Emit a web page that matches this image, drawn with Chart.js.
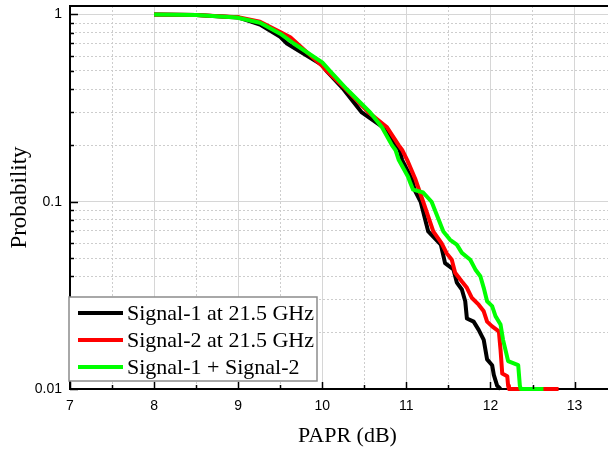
<!DOCTYPE html>
<html><head><meta charset="utf-8">
<script src="https://cdn.jsdelivr.net/npm/chart.js@4.4.1/dist/chart.umd.min.js"></script>
<style>
html,body{margin:0;padding:0;overflow:hidden;background:#fff}
#wrap{position:relative;width:640px;height:449px}
</style>
</head><body>
<div id="wrap"><canvas id="c"></canvas></div>
<script>
// ---- data ----
const seriesLabels = ['Signal-1 at 21.5 GHz', 'Signal-2 at 21.5 GHz', 'Signal-1 + Signal-2'];
const seriesColors = ['#000000', '#ff0000', '#00ff00'];

const sig1Papr = [8.0, 8.5, 9.0, 9.26, 9.5, 9.58, 10.0, 10.05, 10.25, 10.47, 10.72, 10.87, 10.92, 10.95, 11.07, 11.10, 11.17, 11.26, 11.41, 11.46, 11.56, 11.60, 11.66, 11.70, 11.72, 11.80, 11.86, 11.92, 11.96, 12.02, 12.04, 12.08, 12.12];
const sig1Prob = [1.0, 0.995, 0.965, 0.883, 0.76, 0.70, 0.537, 0.50, 0.40, 0.30, 0.25, 0.20, 0.189, 0.167, 0.131, 0.115, 0.10, 0.0694, 0.059, 0.047, 0.0435, 0.037, 0.034, 0.0294, 0.0238, 0.0229, 0.0207, 0.0183, 0.0144, 0.0134, 0.0119, 0.0104, 0.01];

const sig2Papr = [8.0, 8.5, 9.0, 9.26, 9.5, 9.62, 10.0, 10.05, 10.28, 10.55, 10.77, 10.91, 10.95, 11.01, 11.11, 11.20, 11.32, 11.42, 11.48, 11.54, 11.58, 11.66, 11.72, 11.78, 11.86, 11.92, 11.96, 12.02, 12.10, 12.12, 12.14, 12.20, 12.21, 12.22, 12.81];
const sig2Prob = [1.0, 0.995, 0.967, 0.915, 0.805, 0.755, 0.53, 0.50, 0.40, 0.30, 0.25, 0.20, 0.189, 0.167, 0.131, 0.10, 0.0694, 0.060, 0.053, 0.049, 0.0418, 0.0375, 0.0347, 0.0306, 0.0282, 0.026, 0.0229, 0.0216, 0.0203, 0.0162, 0.0121, 0.0117, 0.0104, 0.01, 0.01];

const sumPapr = [8.0, 8.5, 8.98, 9.26, 9.5, 9.66, 10.0, 10.09, 10.29, 10.57, 10.71, 10.83, 10.87, 10.91, 11.02, 11.05, 11.08, 11.20, 11.30, 11.44, 11.52, 11.60, 11.66, 11.76, 11.82, 11.88, 11.92, 11.96, 12.02, 12.06, 12.12, 12.15, 12.21, 12.33, 12.35, 12.36, 12.63];
const sumProb = [1.0, 0.995, 0.964, 0.904, 0.79, 0.70, 0.555, 0.50, 0.40, 0.30, 0.25, 0.20, 0.189, 0.167, 0.136, 0.125, 0.116, 0.112, 0.10, 0.0694, 0.0626, 0.059, 0.0533, 0.049, 0.0435, 0.04, 0.0347, 0.0294, 0.0277, 0.0245, 0.0221, 0.0183, 0.0141, 0.0134, 0.0104, 0.01, 0.01];

const xMajorTicks = [7, 8, 9, 10, 11, 12, 13];
const yMajorTicks = [0.01, 0.1, 1];
const xTitle = 'PAPR (dB)';
const yTitle = 'Probability';

// ---- build ----
const toPts = (xs, ys) => xs.map((x, i) => ({x, y: ys[i]}));
const seriesPts = [toPts(sig1Papr, sig1Prob), toPts(sig2Papr, sig2Prob), toPts(sumPapr, sumProb)];
const isMajorY = v => yMajorTicks.some(m => Math.abs(v / m - 1) < 1e-6);
const isMajorX = v => xMajorTicks.some(m => Math.abs(v - m) < 1e-6);

const serif = "'Liberation Serif', 'Times New Roman', serif";
const sans = "'Liberation Sans', Arial, sans-serif";

const decorPlugin = {
  id: 'decor',
  afterDraw(chart) {
    const {ctx, chartArea: a, scales: {x, y}} = chart;
    ctx.save();
    ctx.strokeStyle = '#000';
    ctx.lineWidth = 1.5;
    // inward ticks
    x.ticks.forEach(t => {
      const px = Math.round(x.getPixelForValue(t.value)) + 0.5;
      const len = isMajorX(t.value) ? 7 : 4;
      ctx.beginPath(); ctx.moveTo(px, a.bottom); ctx.lineTo(px, a.bottom - len); ctx.stroke();
    });
    y.ticks.forEach(t => {
      const py = Math.round(y.getPixelForValue(t.value)) + 0.5;
      const len = isMajorY(t.value) ? 8 : 4;
      ctx.beginPath(); ctx.moveTo(a.left, py); ctx.lineTo(a.left + len, py); ctx.stroke();
    });
    // top / right frame
    ctx.lineWidth = 2;
    ctx.beginPath(); ctx.moveTo(a.left, a.top); ctx.lineTo(a.right, a.top); ctx.stroke();
    ctx.beginPath(); ctx.moveTo(a.right, a.top); ctx.lineTo(a.right, a.bottom); ctx.stroke();

    // legend box
    const bx = a.left - 1, by = 297, bw = 248, bh = 84;
    ctx.fillStyle = '#fff';
    ctx.fillRect(bx, by, bw, bh);
    ctx.strokeStyle = '#8c8c8c';
    ctx.lineWidth = 1.5;
    ctx.strokeRect(bx, by, bw, bh);
    ctx.font = '22px ' + serif;
    ctx.textBaseline = 'middle';
    ctx.textAlign = 'left';
    chart.data.datasets.forEach((ds, i) => {
      const cy = by + 16 + i * 27;
      ctx.strokeStyle = ds.borderColor;
      ctx.lineWidth = 4;
      ctx.beginPath(); ctx.moveTo(bx + 9, cy); ctx.lineTo(bx + 54, cy); ctx.stroke();
      ctx.fillStyle = '#000';
      ctx.fillText(ds.label, bx + 58, cy + 1);
    });
    ctx.restore();
  }
};

new Chart(document.getElementById('c'), {
  type: 'line',
  data: {
    datasets: seriesLabels.map((lab, i) => ({
      label: lab,
      data: seriesPts[i],
      borderColor: seriesColors[i],
      backgroundColor: seriesColors[i],
      borderWidth: 4,
      borderJoinStyle: 'round',
      borderCapStyle: 'butt',
      pointRadius: 0,
      tension: 0,
      fill: false,
      clip: false,
      order: 2 - i
    }))
  },
  options: {
    responsive: true,
    maintainAspectRatio: false,
    animation: false,
    devicePixelRatio: 1,
    layout: {padding: {top: 6, right: 15, left: 0, bottom: 0}},
    plugins: {legend: {display: false}, tooltip: {enabled: false}},
    scales: {
      x: {
        type: 'linear',
        min: 7, max: 13.6,
        afterBuildTicks: s => {
          const t = [];
          for (let v = 7; v <= 13.6 + 1e-9; v += 0.5) t.push({value: Math.round(v * 2) / 2});
          s.ticks = t;
        },
        afterFit: s => { s.height = 60; s.paddingLeft = 0; s.paddingRight = 0; },
        ticks: {
          autoSkip: false, maxRotation: 0, padding: 9,
          color: '#000', font: {family: sans, size: 14},
          callback: v => isMajorX(v) ? String(v) : ''
        },
        grid: {
          drawTicks: false,
          color: c => (c.tick && isMajorX(c.tick.value)) ? '#d6d6d6' : '#cdcdcd',
          lineWidth: 1
        },
        border: {
          display: true, color: '#000', width: 2,
          dash: c => (c.tick && !isMajorX(c.tick.value)) ? [2, 2] : []
        },
        title: {display: true, text: xTitle, color: '#000', font: {family: serif, size: 22}, padding: {top: 0, bottom: 0}}
      },
      y: {
        type: 'logarithmic',
        min: 0.01, max: 1.11,
        afterBuildTicks: s => {
          const t = [];
          for (let d = 0; d < yMajorTicks.length - 1; d++) {
            for (let k = 1; k <= 9; k++) t.push({value: yMajorTicks[d] * k});
          }
          t.push({value: yMajorTicks[yMajorTicks.length - 1]});
          s.ticks = t;
        },
        afterFit: s => { s.width = 70; s.paddingTop = 0; s.paddingBottom = 0; },
        ticks: {
          autoSkip: false, padding: 8,
          color: '#000', font: {family: sans, size: 14},
          callback: v => isMajorY(v) ? String(+v.toPrecision(3)) : ''
        },
        grid: {
          drawTicks: false,
          color: c => (c.tick && isMajorY(c.tick.value)) ? '#d6d6d6' : '#cdcdcd',
          lineWidth: 1
        },
        border: {
          display: true, color: '#000', width: 2,
          dash: c => (c.tick && !isMajorY(c.tick.value)) ? [2, 2] : []
        },
        title: {display: true, text: yTitle, color: '#000', font: {family: serif, size: 23}, padding: {top: 6, bottom: 0}}
      }
    }
  },
  plugins: [decorPlugin]
});
</script>
</body></html>
